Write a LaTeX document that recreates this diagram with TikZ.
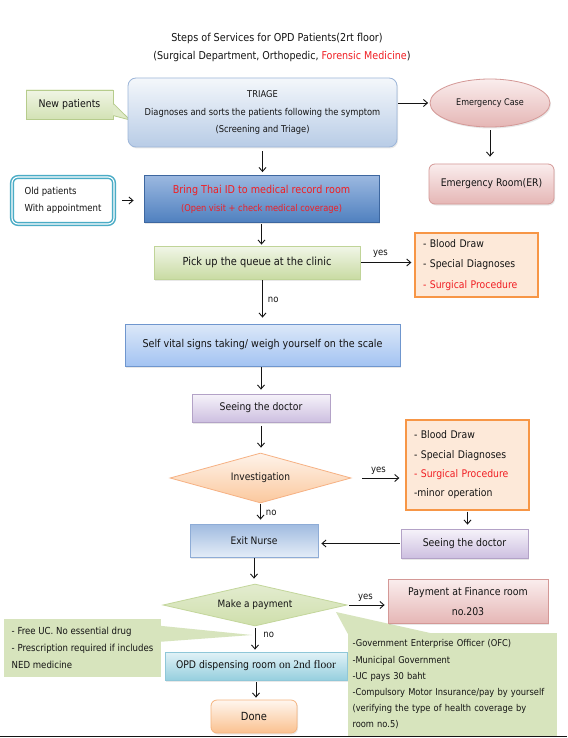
\documentclass[tikz,border=0pt]{standalone}
\usepackage{fontspec}
\setmainfont{DejaVu Sans}[FakeStretch=0.885]
\newfontfamily\serifx{Liberation Serif}
\usetikzlibrary{shapes.geometric,arrows.meta,calc,shadows}
\definecolor{txt}{HTML}{141414}
\definecolor{tred}{HTML}{F01E23}
\definecolor{callfill}{HTML}{D7E4BD}
\definecolor{newTop}{HTML}{F0F5E4}
\definecolor{newBot}{HTML}{D3E2B5}
\definecolor{newdraw}{HTML}{B6CC8C}
\definecolor{triTop}{HTML}{F4F7FB}
\definecolor{triBot}{HTML}{B8CCE6}
\definecolor{triDraw}{HTML}{9DB6D9}
\definecolor{pinkTop}{HTML}{FAEDED}
\definecolor{pinkBot}{HTML}{E5B6B5}
\definecolor{pinkDraw}{HTML}{D49896}
\definecolor{brTop}{HTML}{9BB8E0}
\definecolor{brBot}{HTML}{4F80BF}
\definecolor{brDraw}{HTML}{3D67A0}
\definecolor{tealc}{HTML}{4BACC6}
\definecolor{pkTop}{HTML}{F1F6E8}
\definecolor{pkBot}{HTML}{C9DBA3}
\definecolor{pkDraw}{HTML}{C0D498}
\definecolor{orFill}{HTML}{FDE9D9}
\definecolor{orDraw}{HTML}{F79646}
\definecolor{vTop}{HTML}{DCE8F8}
\definecolor{vBot}{HTML}{A3C3F2}
\definecolor{vDraw}{HTML}{6F96CE}
\definecolor{puTop}{HTML}{F6F3FA}
\definecolor{puBot}{HTML}{CDBFE0}
\definecolor{puDraw}{HTML}{B3A2C7}
\definecolor{ivTop}{HTML}{FEF3EA}
\definecolor{ivBot}{HTML}{FBC89D}
\definecolor{ivDraw}{HTML}{F6B183}
\definecolor{exTop}{HTML}{A0BBE0}
\definecolor{exBot}{HTML}{E3ECF7}
\definecolor{exDraw}{HTML}{8EACD6}
\definecolor{mpTop}{HTML}{E3ECD0}
\definecolor{mpBot}{HTML}{CFDFAB}
\definecolor{mpDraw}{HTML}{C3D69B}
\definecolor{opTop}{HTML}{E2F2F7}
\definecolor{opBot}{HTML}{96CFDE}
\definecolor{opDraw}{HTML}{8FC7D8}
\definecolor{dnTop}{HTML}{FFF6EF}
\definecolor{dnBot}{HTML}{FAC18F}
\definecolor{dnDraw}{HTML}{F5B47F}
\begin{document}
\begin{tikzpicture}[x=1pt,y=-1pt,
  base/.style={inner sep=0pt, text=txt},
  box/.style={base, rectangle, draw, line width=0.8pt,
    drop shadow={opacity=0.18, shadow xshift=1pt, shadow yshift=-1.5pt}},
  arr/.style={-{Straight Barb[length=4pt,width=7pt]}, line width=0.9pt, draw=txt},
  lbl/.style={inner sep=0pt, text=txt, font=\fontsize{9.6}{11}\selectfont},
  listbox/.style={base, fill=orFill, draw=orDraw, line width=1.3pt, align=left,
    text width=107pt, inner xsep=8pt, minimum width=123pt}
]
\useasboundingbox (0,0) rectangle (567,738);
\fill[white] (0,0) rectangle (567,738);

% titles
\node[base, font=\fontsize{10.9}{13}\selectfont] (t1) at (277,38) {Steps of Services for OPD Patients(2rt floor)};
\node[base, font=\fontsize{10.8}{13}\selectfont] (t2) at (282,57) {(Surgical Department, Orthopedic, \textcolor{tred}{Forensic Medicine})};

% callouts (bottom)
\node[base, fill=callfill, minimum width=157pt, minimum height=58pt, align=left,
  font=\fontsize{9.7}{17}\selectfont] (lcall) at (82.5,648)
  {- Free UC. No essential drug\\- Prescription required if includes\\NED medicine};
\coordinate (ltip) at (252,635);
\fill[callfill] ($(lcall.north east)+(-1,7)$) -- (ltip) -- ($(lcall.north east)+(-1,23)$) -- cycle;

\node[base, fill=callfill, minimum width=209pt, minimum height=103pt, text width=200pt,
  inner xsep=4.5pt, align=left, font=\fontsize{9.4}{16.2}\selectfont] (rcall) at (452.5,684.5)
  {-Government Enterprise Officer (OFC)\\-Municipal Government\\-UC pays 30 baht\\-Compulsory Motor Insurance/pay by yourself\\(verifying the type of health coverage by\\room no.5)};
\coordinate (rtip) at (336,612);
\fill[callfill] ($(rcall.north west)+(0,1)$) -- (rtip) -- ($(rcall.north west)+(86,1)$) -- cycle;

% new patients callout
\node[base, draw=newdraw, line width=0.8pt, top color=newTop, bottom color=newBot,
  minimum width=87pt, minimum height=29pt, font=\fontsize{10.6}{12}\selectfont] (newp) at (69.5,104.5) {New patients};
\coordinate (newtip) at (130,120);
\fill[newBot!60!newTop] ($(newp.north east)+(-0.6,14)$) -- (newtip) -- ($(newp.north east)+(-0.6,26)$) -- cycle;
\draw[newdraw, line width=0.8pt] ($(newp.north east)+(0,14)$) -- (newtip) -- ($(newp.north east)+(0,26)$);

% main boxes
\node[box, rounded corners=8pt, top color=triTop, bottom color=triBot, draw=triDraw,
  minimum width=269pt, minimum height=69pt, align=center,
  font=\fontsize{9.4}{17.5}\selectfont] (triage) at (262.5,112.5)
  {TRIAGE\\Diagnoses and sorts the patients following the symptom\\(Screening and Triage)};

\node[base, ellipse, draw=pinkDraw, line width=0.8pt, top color=pinkTop, bottom color=pinkBot,
  minimum width=120pt, minimum height=48pt, font=\fontsize{9.1}{11}\selectfont,
  drop shadow={opacity=0.18, shadow xshift=1pt, shadow yshift=-1.5pt}] (emg) at (490,103) {Emergency Case};

\node[box, rounded corners=6pt, top color=pinkTop, bottom color=pinkBot, draw=pinkDraw,
  minimum width=125pt, minimum height=40pt, font=\fontsize{10.5}{12}\selectfont] (er) at (491.5,184) {Emergency Room(ER)};

\node[box, top color=brTop, bottom color=brBot, draw=brDraw, minimum width=235pt, minimum height=47pt,
  align=center, text=tred, font=\fontsize{10.85}{18}\selectfont] (bring) at (261.5,199)
  {Bring Thai ID to medical record room\\{\fontsize{9.35}{18}\selectfont (Open visit + check medical coverage)}};

\node[base, draw=tealc, double=white, double distance=1.1pt, line width=1.5pt, rounded corners=6pt,
  fill=white, minimum width=102pt, minimum height=47pt, align=left,
  font=\fontsize{9.65}{17}\selectfont] (old) at (63,200.5) {Old patients\\With appointment};

\node[box, top color=pkTop, bottom color=pkBot, draw=pkDraw, minimum width=206pt, minimum height=33pt,
  font=\fontsize{11.1}{13}\selectfont] (pick) at (257,262.5) {Pick up the queue at the clinic};

\node[listbox, minimum height=64pt, font=\fontsize{10.5}{20.5}\selectfont] (or1) at (476.5,265)
  {- Blood Draw\\- Special Diagnoses\\\textcolor{tred}{- Surgical Procedure}};

\node[box, top color=vTop, bottom color=vBot, draw=vDraw, minimum width=275pt, minimum height=42pt,
  font=\fontsize{10.8}{13}\selectfont] (vital) at (262.5,345) {Self vital signs taking/ weigh yourself on the scale};

\node[box, top color=puTop, bottom color=puBot, draw=puDraw, minimum width=138pt, minimum height=28pt,
  font=\fontsize{10.5}{12}\selectfont] (see1) at (261,408) {Seeing the doctor};

\node[base, diamond, aspect=3.6, top color=ivTop, bottom color=ivBot, draw=ivDraw, line width=0.8pt,
  minimum width=181pt, minimum height=50pt, font=\fontsize{10.3}{12}\selectfont] (inv) at (260.5,478) {Investigation};

\node[listbox, minimum height=90pt, font=\fontsize{10.5}{19.3}\selectfont] (or2) at (467.5,465)
  {- Blood Draw\\- Special Diagnoses\\\textcolor{tred}{- Surgical Procedure}\\-minor operation};

\node[box, top color=puTop, bottom color=puBot, draw=puDraw, minimum width=127pt, minimum height=29pt,
  font=\fontsize{10.6}{12}\selectfont] (see2) at (464.5,543.5) {Seeing the doctor};

\node[box, top color=exTop, bottom color=exBot, draw=exDraw, minimum width=128pt, minimum height=33pt,
  font=\fontsize{10.3}{12}\selectfont] (exit) at (254,540.5) {Exit Nurse};

\node[base, diamond, aspect=4.4, top color=mpTop, bottom color=mpBot, draw=mpDraw, line width=0.8pt,
  minimum width=184pt, minimum height=42pt, font=\fontsize{10.1}{12}\selectfont] (pay) at (255,605) {Make a payment};

\node[box, top color=pinkTop, bottom color=pinkBot, draw=pinkDraw, minimum width=160pt, minimum height=44pt,
  align=center, font=\fontsize{10.6}{20}\selectfont] (payb) at (468,601.5) {Payment at Finance room\\no.203};

\node[box, top color=opTop, bottom color=opBot, draw=opDraw, minimum width=182pt, minimum height=28pt,
  font=\fontsize{10.5}{12}\selectfont] (opd) at (256,666) {OPD dispensing room {\serifx\fontsize{11.5}{13}\selectfont on 2nd floor}};

\node[box, rounded corners=6pt, top color=dnTop, bottom color=dnBot, draw=dnDraw, minimum width=86pt, minimum height=33pt,
  font=\fontsize{11.2}{13}\selectfont] (done) at (254,716.5) {Done};

% connectors
\draw[arr, shorten <=1pt, shorten >=1.5pt] (triage.east |- emg.west) -- (emg.west);
\draw[arr, shorten <=3pt, shorten >=7pt] (emg.south) -- (emg.south |- er.north);
\draw[arr, shorten <=4pt, shorten >=3pt] (triage.south) -- (triage.south |- bring.north);
\draw[arr, shorten <=7pt, shorten >=10pt] (old.east) -- (old.east -| bring.west);
\draw[arr, shorten <=1pt, shorten >=1pt] (bring.south) -- (bring.south |- pick.north);
\draw[arr, shorten <=1pt, shorten >=3pt] (pick.east) -- (pick.east -| or1.west)
  node[lbl, pos=0.37, above=5pt] {yes};
\draw[arr, shorten <=1pt, shorten >=6pt] (vital.north |- pick.south) -- (vital.north)
  node[lbl, pos=0.47, right=5pt] {no};
\draw[arr, shorten <=1pt, shorten >=4pt] (see1.north |- vital.south) -- (see1.north);
\draw[arr, shorten <=4pt, shorten >=5pt] (see1.south) -- (see1.south |- inv.north);
\draw[arr, shorten <=11pt, shorten >=6pt] (inv.east) -- (inv.east -| or2.west)
  node[lbl, pos=0.5, above=3pt] {yes};
\draw[arr, shorten <=1pt, shorten >=4pt] (or2.south) -- (or2.south |- see2.north);
\draw[arr, shorten <=1pt, shorten >=3pt] (see2.west) -- (see2.west -| exit.east);
\draw[arr, shorten <=1pt, shorten >=4pt] (inv.south) -- (inv.south |- exit.north)
  node[lbl, pos=0.45, right=5pt] {no};
\draw[arr, shorten <=1pt, shorten >=5pt] (exit.south) -- (exit.south |- pay.north);
\draw[arr, shorten <=2pt, shorten >=3pt] (pay.east) -- (pay.east -| payb.west)
  node[lbl, pos=0.45, above=3pt] {yes};
\draw[arr, shorten <=2pt, shorten >=2pt] (pay.south) -- (pay.south |- opd.north)
  node[lbl, pos=0.35, right=8pt] {no};
\draw[arr, shorten <=2pt, shorten >=2pt] (opd.south) -- (opd.south |- done.north);

% page edge line
\draw[line width=1.3pt, txt] (0,736.6) -- (567,736.6);
\end{tikzpicture}
\end{document}
